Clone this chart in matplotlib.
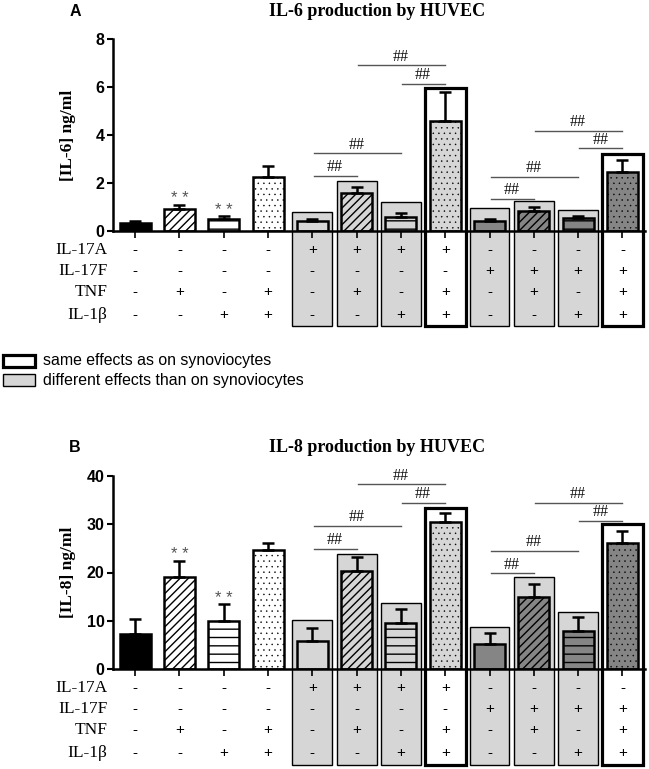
import numpy as np
import matplotlib.pyplot as plt
from matplotlib.patches import Rectangle

plt.rcParams['hatch.linewidth'] = 1.0

# treatment table (one column per bar)
row_names = ['IL-17A', 'IL-17F', 'TNF', 'IL-1β']
il17a = ['-', '-', '-', '-', '+', '+', '+', '+', '-', '-', '-', '-']
il17f = ['-', '-', '-', '-', '-', '-', '-', '-', '+', '+', '+', '+']
tnf = ['-', '+', '-', '+', '-', '+', '-', '+', '-', '+', '-', '+']
il1b = ['-', '-', '+', '+', '-', '-', '+', '+', '-', '-', '+', '+']

# IL-6 (ng/ml)
il6_mean = [0.35, 0.9, 0.52, 2.26, 0.42, 1.57, 0.6, 4.6, 0.42, 0.85, 0.53, 2.44]
il6_err = [0.08, 0.2, 0.1, 0.44, 0.08, 0.28, 0.16, 1.2, 0.08, 0.14, 0.11, 0.52]
il6_box = [0.8, 2.1, 1.22, 5.97, 0.97, 1.24, 0.88, 3.22]  # bars 5-12
il6_sig = [(4, 5, 2.3), (4, 6, 3.23), (6, 7, 6.12), (5, 7, 6.9),
           (8, 9, 1.33), (8, 10, 2.26), (10, 11, 3.45), (9, 11, 4.18)]

# IL-8 (ng/ml)
il8_mean = [7.2, 19.0, 10.0, 24.7, 5.8, 20.3, 9.6, 30.4, 5.25, 14.85, 7.95, 26.05]
il8_err = [3.2, 3.45, 3.4, 1.5, 2.8, 2.85, 2.9, 2.0, 2.25, 2.75, 2.9, 2.55]
il8_box = [10.15, 23.9, 13.6, 33.3, 8.77, 19.0, 11.75, 30.05]
il8_sig = [(4, 5, 24.9), (4, 6, 29.6), (6, 7, 34.5), (5, 7, 38.3),
           (8, 9, 19.8), (8, 10, 24.45), (10, 11, 30.7), (9, 11, 34.5)]

stars_on = [1, 2]
same_effect = [3, 7]  # index within boxes (bars 8 and 12)

light = '#d6d6d6'
dark = '#858585'
fills = ['black', 'white', 'white', 'white', light, light, light, light, dark, dark, dark, dark]
hatches = ['', '////', '--', '...', '', '////', '--', '...', '', '////', '--', '...']

serif = 'Liberation Serif'
sans = 'Liberation Sans'

fig = plt.figure(figsize=(6.49, 7.69), dpi=100)


def panel(rect, mean, err, box, sig, ymax, title, letter, ylabel, title_y):
    ax = fig.add_axes(rect)
    x = np.arange(len(mean))
    ax.set_xlim(-0.5, 11.51)
    ax.set_ylim(0, ymax)
    bottom = -0.495 * ymax

    # background boxes
    for k, top in enumerate(box):
        i = k + 4
        if k in same_effect:
            r = Rectangle((i - 0.46, bottom), 0.92, top - bottom, facecolor='white',
                          edgecolor='black', lw=2.3, clip_on=False, zorder=1)
        else:
            r = Rectangle((i - 0.45, bottom), 0.9, top - bottom, facecolor=light,
                          edgecolor='black', lw=1.0, clip_on=False, zorder=1)
        ax.add_patch(r)

    for i in x:
        hlw = 0.3 if '.' in hatches[i] else 1.0  # dots stay small
        with plt.rc_context({'hatch.linewidth': hlw}):
            ax.bar(i, mean[i], width=0.7, color=fills[i], edgecolor='black',
                   hatch=hatches[i], lw=1.8, zorder=3)
    ax.errorbar(x, mean, yerr=[np.zeros(len(err)), err], fmt='none', ecolor='black',
                elinewidth=1.8, capsize=4.5, capthick=1.8, zorder=4)

    for i in stars_on:
        ax.annotate('* *', (i, mean[i] + err[i]), xytext=(0, -1), textcoords='offset points',
                    ha='center', va='bottom', fontsize=12, color='#555555', family=sans)

    for a, b, y in sig:
        ax.plot([a + 0.03, b], [y, y], color='#555555', lw=1.0, zorder=4)
        ax.annotate('##', ((a + b) / 2, y), xytext=(0, 0.5), textcoords='offset points',
                    ha='center', va='bottom', fontsize=11.5, family=serif, color='#111111')

    # treatment table
    rows = [il17a, il17f, tnf, il1b]
    row_px = [19, 40, 61, 84]
    for name, vals, px in zip(row_names, rows, row_px):
        y = -px / 192 * ymax
        ax.text(-0.62, y, name, ha='right', va='center', fontsize=12.5, family=serif,
                clip_on=False)
        for i, v in enumerate(vals):
            ax.text(i, y, v, ha='center', va='center', fontsize=11, family=sans,
                    clip_on=False, zorder=5)

    for s in ['top', 'right']:
        ax.spines[s].set_visible(False)
    ax.spines['left'].set_linewidth(1.8)
    ax.spines['bottom'].set_linewidth(1.8)
    ax.spines['bottom'].set_zorder(6)
    ax.set_xticks(x)
    ax.set_xticklabels([])
    ax.tick_params(axis='x', length=5, width=1.2)
    ax.set_yticks(np.linspace(0, ymax, 5))
    ax.tick_params(axis='y', length=4, width=1.5, labelsize=11.5, pad=2)
    for t in ax.get_yticklabels():
        t.set_fontfamily(sans)
        t.set_fontweight('bold')
    ax.set_ylabel(ylabel, family=serif, fontweight='bold', fontsize=12.5)
    ax.yaxis.set_label_coords(-0.07, 0.5)

    fig.text(377 / 649, 1 - title_y / 769, title, ha='center', va='center',
             fontsize=13, fontweight='bold', family=serif)
    fig.text(75 / 649, 1 - title_y / 769, letter, ha='center', va='center',
             fontsize=11.5, fontweight='bold', family=sans)
    return ax


panel([113 / 649, 1 - 231 / 769, 532 / 649, 192 / 769], il6_mean, il6_err, il6_box,
      il6_sig, 8, 'IL-6 production by HUVEC', 'A', '[IL-6] ng/ml', 11)
panel([113 / 649, 1 - 669 / 769, 532 / 649, 193 / 769], il8_mean, il8_err, il8_box,
      il8_sig, 40, 'IL-8 production by HUVEC', 'B', '[IL-8] ng/ml', 448)

# legend
legend_items = [('same effects as on synoviocytes', 'white', 2.3),
                ('different effects than on synoviocytes', light, 1.0)]
for (label, fc, lw), py in zip(legend_items, [361, 380]):
    fig.patches.append(Rectangle((3 / 649, 1 - (py + 6) / 769), 32 / 649, 12 / 769,
                                 facecolor=fc, edgecolor='black', lw=lw,
                                 transform=fig.transFigure))
    fig.text(43 / 649, 1 - py / 769, label, ha='left', va='center', fontsize=11.4, family=sans)

fig.savefig('out.png', dpi=100)
